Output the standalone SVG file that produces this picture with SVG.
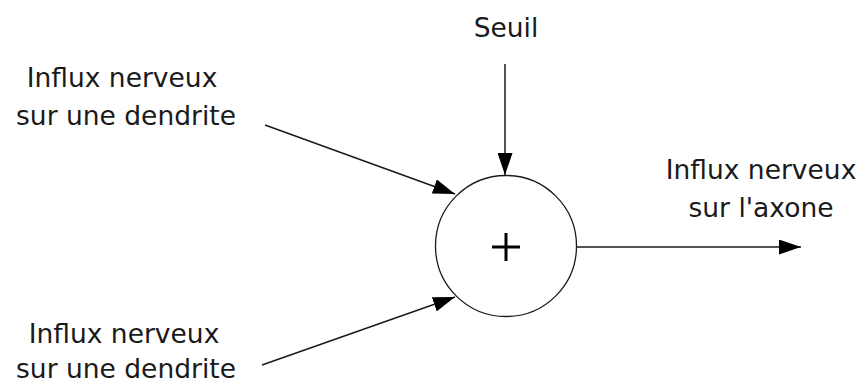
<svg xmlns="http://www.w3.org/2000/svg" width="862" height="385" viewBox="0 0 862 385">
<style>
text{font-family:"DejaVu Sans",Verdana,sans-serif;font-size:26.5px;fill:#1a1a1a;text-anchor:middle}
.ln{stroke:#1a1a1a;stroke-width:1.5;fill:none}
</style>
<defs>
<marker id="ah" viewBox="0 0 22 15" refX="22" refY="7.5" markerWidth="22" markerHeight="15" markerUnits="userSpaceOnUse" orient="auto">
<path d="M0,0 L22,7.5 L0,15 Z" fill="#000"/>
</marker>
</defs>
<rect width="862" height="385" fill="#fff"/>
<g id="in1"><text x="122" y="87">Influx nerveux</text><text x="126" y="125">sur une dendrite</text></g>
<g id="in2"><text x="124" y="343">Influx nerveux</text><text x="126" y="378">sur une dendrite</text></g>
<g id="seuil"><text x="506" y="37">Seuil</text></g>
<g id="out"><text x="761" y="179">Influx nerveux</text><text x="761" y="217">sur l'axone</text></g>
<g id="sum">
<circle cx="506" cy="246" r="70.5" fill="#fff" stroke="#1a1a1a" stroke-width="1.3"/>
<path d="M492,247H520M506,233V261" stroke="#000" stroke-width="3"/>
</g>
<g id="connectors">
<line class="ln" x1="265" y1="125" x2="455" y2="194" marker-end="url(#ah)"/>
<line class="ln" x1="262" y1="365" x2="455" y2="297" marker-end="url(#ah)"/>
<line class="ln" x1="505" y1="64" x2="505" y2="175" marker-end="url(#ah)"/>
<line class="ln" x1="577" y1="247" x2="801" y2="247" marker-end="url(#ah)"/>
</g>
</svg>
